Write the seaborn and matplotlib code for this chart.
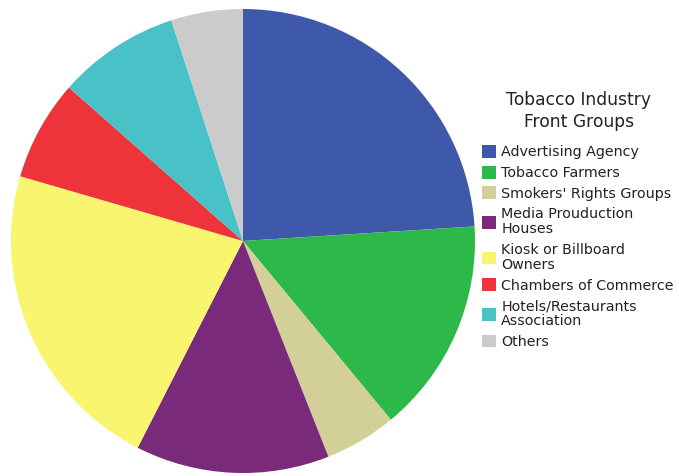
import matplotlib
matplotlib.use("Agg")
import matplotlib.pyplot as plt
import seaborn as sns

categories = ["Advertising Agency", "Tobacco Farmers", "Smokers' Rights Groups",
              "Media Prouduction\nHouses", "Kiosk or Billboard\nOwners",
              "Chambers of Commerce", "Hotels/Restaurants\nAssociation", "Others"]
values = [24, 15, 5, 13.5, 22, 7, 8.5, 5]
colors = ["#3F59AA", "#2DB84A", "#D3CF99", "#7A2A7A", "#FAF56F", "#EE333A", "#48C2C6", "#CBCBCB"]
legend_title = "Tobacco Industry\nFront Groups"

sns.set_theme(style="white")
plt.rcParams['font.family'] = ['DejaVu Sans']

W, H = 679, 476
fig = plt.figure(figsize=(W/100, H/100), dpi=100)
ax = fig.add_axes([11/W, 3/H, 464/W, 464/H])
pal = sns.color_palette(colors)
wedges, _ = ax.pie(values, colors=pal, startangle=90, counterclock=False,
                   wedgeprops=dict(linewidth=0))
ax.set_aspect("equal")
ax.set_xlim(-1, 1)
ax.set_ylim(-1, 1)
ax.axis("off")

fig.text(579/W, 1 - 111/H, legend_title, ha="center", va="center",
         fontsize=12.3, color="#222222", linespacing=1.35, multialignment="center")

leg = fig.legend(wedges, categories, loc="upper left",
                 bbox_to_anchor=(482/W, 1 - 145/H), frameon=False,
                 fontsize=10.3, handlelength=1.0, handleheight=1.0,
                 handletextpad=0.35, labelspacing=0.45, borderpad=0.0, borderaxespad=0)
for t in leg.get_texts():
    t.set_linespacing(1.1)
    t.set_color("#222222")
fig.savefig("out.png", dpi=100)
